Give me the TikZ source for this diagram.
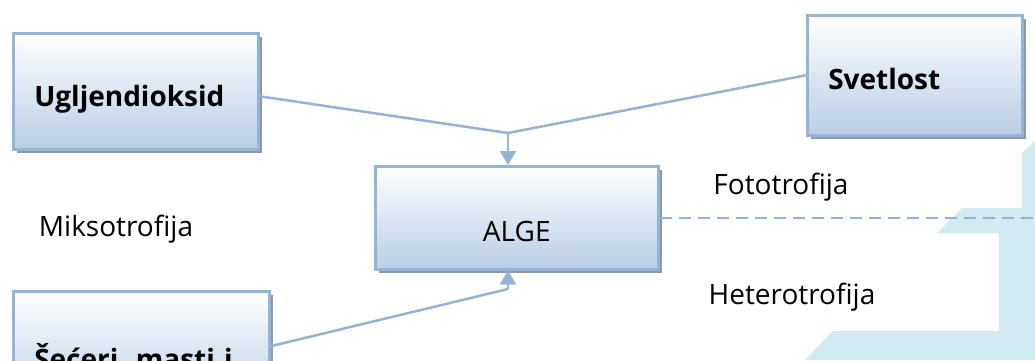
\documentclass[tikz,border=0pt]{standalone}
\usepackage{fontspec}
\setmainfont{Open Sans}
\usetikzlibrary{arrows.meta,calc,shadows}
\definecolor{linec}{RGB}{149,179,215}
\definecolor{boxbot}{RGB}{185,205,229}
\definecolor{shadowc}{RGB}{141,153,168}
\definecolor{stair}{RGB}{210,234,241}
\tikzset{
  box/.style={draw=linec, line width=2.5pt, top color=white, bottom color=boxbot,
    drop shadow={shadow xshift=4pt, shadow yshift=-4pt, fill=shadowc, opacity=1},
    inner sep=0pt, text depth=0pt},
  conn/.style={draw=linec, line width=2.5pt},
  arr/.style={conn, -{Triangle[width=16pt,length=14pt]}},
  lbl/.style={font=\fontsize{28}{33}\selectfont, inner sep=0pt},
  bold/.style={font=\fontsize{28}{33}\selectfont\bfseries}
}
\begin{document}
\begin{tikzpicture}[x=1pt,y=-1pt]
\useasboundingbox (0,0) rectangle (1035,360);
% background stair shape
\fill[stair] (1035,141) -- (1022,153) -- (1022,208) -- (962,208) -- (937,233)
  -- (999,233) -- (999,331) -- (833,331) -- (805,360) -- (1035,360) -- cycle;
% boxes
\node[box, bold, anchor=north west, minimum width=245pt, minimum height=116pt,
  text width=203pt, align=left, text height=30pt] (ug) at (12,32) {Ugljendioksid};
\node[box, bold, anchor=north west, minimum width=215pt, minimum height=120pt,
  text width=173pt, align=left, text height=28pt] (sv) at (806,14) {Svetlost};
\node[box, lbl, anchor=north west, minimum width=283pt, minimum height=103pt,
  text height=48pt] (alge) at (374,165) {ALGE};
\node[box, bold, anchor=north west, minimum width=256pt, minimum height=116pt,
  text width=214pt, align=left, text height=40pt] (sc) at (12,290) {Šećeri, masti i};
% labels
\node[lbl] (mik) at (116,229) {Miksotrofija};
\node[lbl] (fot) at (781,187) {Fototrofija};
\node[lbl] (het) at (792,297) {Heterotrofija};
% connectors
\coordinate (j) at (508,133);
\coordinate (k) at (508,289);
\coordinate (dend) at (1035,218);
\draw[conn] ($(ug.east)+(0,5)$) -- (j);
\draw[conn] (sv.west) -- (j);
\draw[arr] (j) -- (j |- alge.north);
\draw[conn] ($(sc.east)+(0,-3)$) -- (k);
\draw[arr] (k) -- (k |- alge.south);
\draw[conn, dash pattern=on 12pt off 7pt] (alge.east |- dend) -- (dend);
\end{tikzpicture}
\end{document}
